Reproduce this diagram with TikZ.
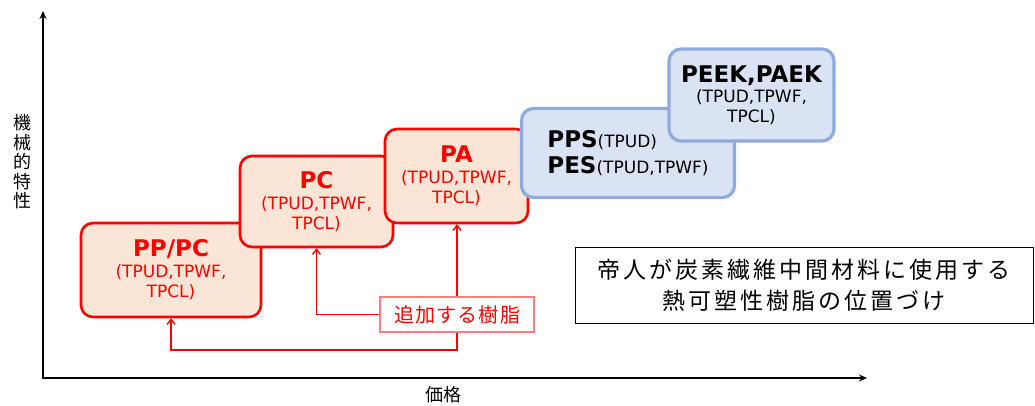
\documentclass[tikz,border=0pt]{standalone}
\usepackage{fontspec}
\setmainfont{Noto Sans CJK JP}
\newfontfamily\lat{DejaVu Sans}
\newfontfamily\spacedfont{Noto Sans CJK JP}[LetterSpace=13]
\newfontfamily\labfont{Noto Sans CJK JP}[LetterSpace=6]
\usetikzlibrary{arrows.meta}
\definecolor{redc}{HTML}{FF0000}
\definecolor{rfill}{HTML}{FBE5D6}
\definecolor{bline}{HTML}{8FAADC}
\definecolor{bfill}{HTML}{DAE3F3}
\definecolor{labline}{HTML}{FF7C80}
\tikzset{
  rbox/.style={draw=redc, line width=2.6pt, fill=rfill, rounded corners=12pt, inner sep=0pt,
    align=center, text=redc, font=\lat\fontsize{17}{20}\selectfont},
  bbox/.style={draw=bline, line width=3.2pt, fill=bfill, rounded corners=12pt, inner sep=0pt,
    align=center, text=black, font=\lat\fontsize{17}{20}\selectfont},
  axis/.style={line width=2.2pt, {Stealth[length=8pt,width=7pt]}-{Stealth[length=8pt,width=7pt]}},
  conn/.style={draw=redc, line width=1.4pt, -{Straight Barb[length=5pt,width=8pt]}},
}
\newcommand{\ttl}[1]{{\fontsize{23}{26}\selectfont\bfseries #1}}
\begin{document}
\begin{tikzpicture}[x=1pt,y=-1pt]
\useasboundingbox (0,0) rectangle (1035,406);
% axes
\coordinate (ytop) at (43,11);
\coordinate (O) at (43,378);
\coordinate (xend) at (867,378);
\draw[axis] (ytop) -- (O) -- (xend);
\node[font=\fontsize{18}{19.5}\selectfont, align=center] (ylab) at (22,162) {機\\械\\的\\特\\性};
\node[font=\fontsize{18}{20}\selectfont] (xlab) at (443,395) {価格};
% red boxes
\node[rbox, minimum width=180pt, minimum height=94pt] (pppc) at (171,270)
  {\ttl{PP/PC}\\[1pt](TPUD,TPWF,\\TPCL)};
\node[rbox, minimum width=153pt, minimum height=91pt] (pc) at (316.5,201.5)
  {\ttl{PC}\\[1pt](TPUD,TPWF,\\TPCL)};
\node[rbox, minimum width=143pt, minimum height=94pt] (pa) at (456.5,176)
  {\ttl{PA}\\[1pt](TPUD,TPWF,\\TPCL)};
% blue boxes
\node[bbox, minimum width=213pt, minimum height=89pt, align=left] (pps) at (628,153)
  {\ttl{PPS}(TPUD)\\[6pt]\ttl{PES}(TPUD,TPWF)};
\node[bbox, minimum width=165pt, minimum height=92pt] (peek) at (751.5,95)
  {\ttl{PEEK,PAEK}\\[0pt](TPUD,TPWF,\\TPCL)};
% legend
\node[draw=black, line width=1pt, minimum width=458pt, minimum height=76pt, inner sep=0pt,
  align=center, font=\spacedfont\fontsize{23}{31}\selectfont] (leg) at (804,285)
  {帝人が炭素繊維中間材料に使用する\\熱可塑性樹脂の位置づけ};
% added-resin label
\node[draw=labline, line width=1.3pt, fill=white, minimum width=154pt, minimum height=35pt,
  inner sep=0pt, text=redc, font=\labfont\fontsize{20}{22}\selectfont] (lab) at (457,314.5)
  {追加する樹脂};
\draw[conn] (lab.west) -| (pc.south);
\draw[conn] (lab.north) -- (lab.north |- pa.south);
\coordinate (bend) at (457,350);
\draw[conn] (lab.south) -- (bend) -| (pppc.south);
\end{tikzpicture}
\end{document}
